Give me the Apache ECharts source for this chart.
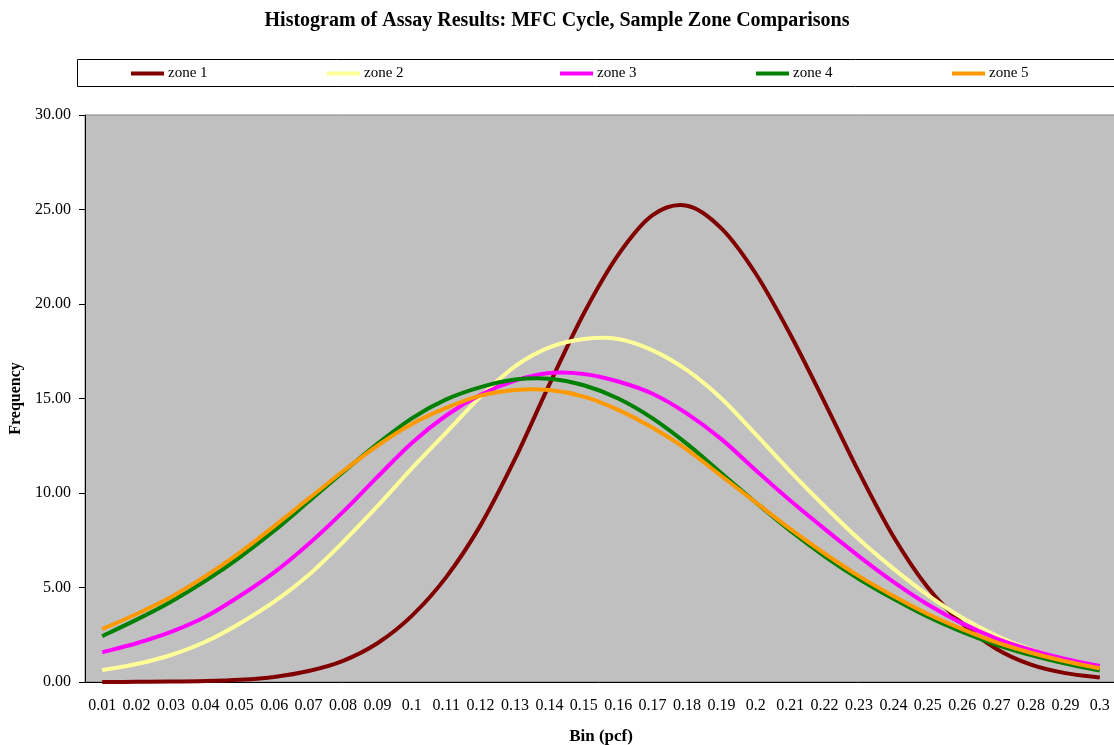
<!DOCTYPE html>
<html>
<head>
<meta charset="utf-8">
<script src="https://cdn.jsdelivr.net/npm/echarts@6/dist/echarts.min.js"></script>
<style>
html,body{margin:0;padding:0;background:#fff;}
#chart{width:1114px;height:745px;}
</style>
</head>
<body>
<div id="chart"></div>
<script>
const bins = ["0.01","0.02","0.03","0.04","0.05","0.06","0.07","0.08","0.09","0.1",
  "0.11","0.12","0.13","0.14","0.15","0.16","0.17","0.18","0.19","0.2",
  "0.21","0.22","0.23","0.24","0.25","0.26","0.27","0.28","0.29","0.3"];
const zone1 = [0.00,0.01,0.02,0.05,0.12,0.27,0.58,1.12,2.05,3.5,5.55,8.3,11.8,15.75,19.5,22.6,24.7,25.2,24.0,21.6,18.4,14.8,11.1,7.7,5.0,3.1,1.75,0.92,0.47,0.24];
const zone2 = [0.63,0.95,1.43,2.13,3.1,4.25,5.66,7.4,9.3,11.3,13.2,15.1,16.7,17.7,18.15,18.15,17.55,16.5,15.0,13.1,11.15,9.3,7.55,6.0,4.6,3.4,2.45,1.72,1.18,0.8];
const zone3 = [1.57,2.05,2.65,3.45,4.55,5.8,7.3,9.0,10.85,12.65,14.1,15.2,15.95,16.35,16.3,15.9,15.25,14.2,12.85,11.2,9.6,8.1,6.65,5.3,4.1,3.1,2.3,1.7,1.22,0.85];
const zone4 = [2.43,3.3,4.25,5.35,6.6,8.0,9.55,11.1,12.6,13.95,14.95,15.6,16.0,16.05,15.7,15.0,13.95,12.6,11.05,9.5,8.0,6.65,5.45,4.4,3.45,2.65,1.97,1.42,0.97,0.6];
const zone5 = [2.8,3.6,4.5,5.6,6.85,8.25,9.7,11.15,12.5,13.65,14.5,15.15,15.45,15.45,15.1,14.4,13.45,12.3,10.9,9.5,8.1,6.8,5.6,4.55,3.6,2.8,2.1,1.55,1.1,0.72];
const seriesNames = ["zone 1","zone 2","zone 3","zone 4","zone 5"];
const seriesColors = ["#800000","#FFFF99","#FF00FF","#008000","#FF9900"];
const seriesData = [zone1, zone2, zone3, zone4, zone5];
const legendLefts = [131, 327, 560, 756, 952];

const FONT = "'Liberation Serif','Times New Roman',serif";

// Smooth curve (Catmull-Rom -> cubic Bezier) through points placed by the axes.
function curveRenderer(values, color) {
  return function (params, api) {
    if (params.dataIndex !== 0) return null;
    const pts = values.map((v, i) => api.coord([i, v]));
    let d = 'M' + pts[0][0] + ' ' + pts[0][1];
    for (let i = 0; i < pts.length - 1; i++) {
      const p0 = pts[i - 1] || pts[i];
      const p1 = pts[i];
      const p2 = pts[i + 1];
      const p3 = pts[i + 2] || pts[i + 1];
      const c1x = p1[0] + (p2[0] - p0[0]) / 6, c1y = p1[1] + (p2[1] - p0[1]) / 6;
      const c2x = p2[0] - (p3[0] - p1[0]) / 6, c2y = p2[1] - (p3[1] - p1[1]) / 6;
      d += ' C' + c1x + ' ' + c1y + ' ' + c2x + ' ' + c2y + ' ' + p2[0] + ' ' + p2[1];
    }
    return {
      type: 'path',
      shape: {pathData: d},
      style: {stroke: color, fill: 'none', lineWidth: 4, lineJoin: 'round'}
    };
  };
}

const chart = echarts.init(document.getElementById('chart'), null, {renderer:'canvas'});
const option = {
  animation: false,
  backgroundColor: '#ffffff',
  textStyle: {fontFamily: FONT},
  title: {
    text: 'Histogram of Assay Results: MFC Cycle, Sample Zone Comparisons',
    left: 'center', top: 11, padding: 0,
    textStyle: {fontFamily: FONT, fontSize: 20, fontWeight: 'bold', color: '#000'}
  },
  graphic: [{
    type: 'rect', z: -1,
    shape: {x: 77.5, y: 59.5, width: 1060, height: 27},
    style: {fill: '#ffffff', stroke: '#000000', lineWidth: 1}
  }],
  legend: seriesNames.map((n, i) => ({
    data: [n], left: legendLefts[i], top: 66, padding: 0,
    itemWidth: 33, itemHeight: 4, itemGap: 0,
    icon: 'rect',
    textStyle: {fontFamily: FONT, fontSize: 15, color: '#000', padding: [0,0,0,-1]}
  })),
  grid: {left: 85, top: 115, width: 1032, height: 567, outerBoundsMode: 'none', containLabel: false,
    show: true, backgroundColor: '#C0C0C0', borderColor: '#808080', borderWidth: 1},
  xAxis: {
    type: 'category', data: bins, boundaryGap: true,
    name: 'Bin (pcf)', nameLocation: 'middle', nameGap: 46,
    nameTextStyle: {fontFamily: FONT, fontSize: 17, fontWeight: 'bold', color: '#000'},
    axisLine: {lineStyle: {color: '#000', width: 1}},
    axisTick: {length: 5, lineStyle: {color: '#000'}},
    axisLabel: {interval: 0, margin: 16, fontFamily: FONT, fontSize: 16, color: '#000'},
    splitLine: {show: false}
  },
  yAxis: {
    type: 'value', min: 0, max: 30, interval: 5,
    name: 'Frequency', nameLocation: 'middle', nameGap: 60, nameRotate: 90,
    nameTextStyle: {fontFamily: FONT, fontSize: 16, fontWeight: 'bold', color: '#000'},
    axisLine: {show: true, lineStyle: {color: '#000', width: 1}},
    axisTick: {show: true, length: 6, lineStyle: {color: '#000'}},
    axisLabel: {margin: 14, fontFamily: FONT, fontSize: 16, color: '#000',
      formatter: v => v.toFixed(2)},
    splitLine: {show: false}
  },
  series: seriesNames.map((n, i) => ({
    name: n, type: 'custom',
    data: seriesData[i].map((v, j) => [j, v]),
    encode: {x: 0, y: 1},
    renderItem: curveRenderer(seriesData[i], seriesColors[i]),
    itemStyle: {color: seriesColors[i]},
    z: 2 + i
  }))
};
chart.setOption(option);
</script>
</body>
</html>
